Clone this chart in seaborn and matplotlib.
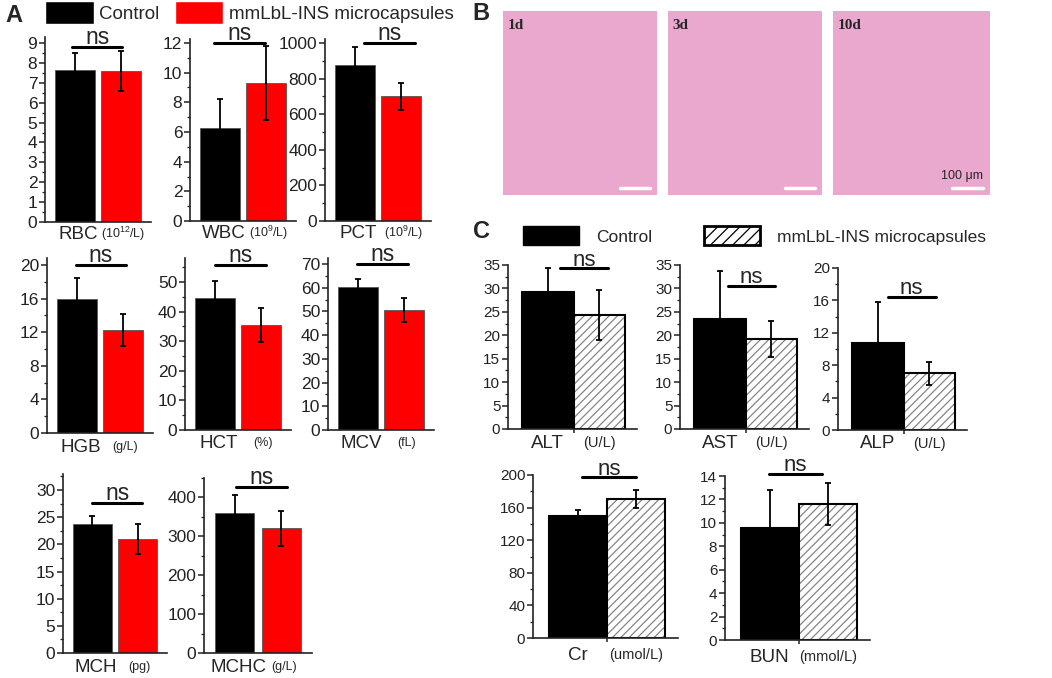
import matplotlib
matplotlib.use('Agg')
import matplotlib.pyplot as plt
import seaborn as sns
from matplotlib.patches import Patch, Rectangle
from matplotlib.ticker import MultipleLocator

W, H = 1052, 678

groups = ['Control', 'mmLbL-INS microcapsules']

# panel A: blood routine (mean, sd)
a_names = ['RBC', 'WBC', 'PCT', 'HGB', 'HCT', 'MCV', 'MCH', 'MCHC']
a_units = ['(10$^{12}$/L)', '(10$^{9}$/L)', '(10$^{9}$/L)', '(g/L)', '(%)', '(fL)', '(pg)', '(g/L)']
a_ctrl = [7.65, 6.3, 875, 15.9, 44.5, 60.5, 23.8, 360]
a_ctrl_sd = [0.85, 1.9, 100, 2.6, 6.0, 3.0, 1.4, 45]
a_mm = [7.6, 9.3, 700, 12.3, 35.5, 50.5, 21.0, 320]
a_mm_sd = [1.0, 2.5, 78, 1.9, 5.7, 5.0, 2.7, 45]

# panel C: liver / kidney function (mean, sd)
c_names = ['ALT', 'AST', 'ALP', 'Cr', 'BUN']
c_units = ['(U/L)', '(U/L)', '(U/L)', '(umol/L)', '(mmol/L)']
c_ctrl = [29.2, 23.4, 10.8, 150, 9.6]
c_ctrl_sd = [5.2, 10.3, 5.0, 7, 3.2]
c_mm = [24.3, 19.2, 7.0, 170, 11.6]
c_mm_sd = [5.4, 3.9, 1.4, 11, 1.8]

# panel B: histology time points
b_days = ['1d', '3d', '10d']

# layout: x0, y0 (px of zero), ref value, ref px, ylim top, major, minor, ns y, ns x0, axis width, label dy
a_layout = [
    (45, 222, 9, 43, 9.3, 1, 0.5, 8.8, -0.07, 106, 12),
    (190, 221, 12, 43, 12.3, 2, 1, 12.0, -0.13, 106, 12),
    (325, 221, 1000, 43, 1020, 200, 100, 1000, 0.2, 106, 12),
    (47, 433, 20, 265, 20.8, 4, 2, 20.0, -0.03, 106, 14),
    (185, 430, 50, 282, 58, 10, 5, 55.7, 0.0, 106, 13),
    (328, 430, 70, 264, 72.5, 10, 5, 70.0, -0.02, 106, 13),
    (63, 653, 30, 490, 33, 5, 2.5, 27.6, 0.0, 104, 14),
    (204, 653, 400, 497, 450, 100, 50, 425, 0.02, 108, 14),
]
c_layout = [
    (508, 429, 35, 265, 35, 5, 2.5, 34.3, 0.24, 129, 14),
    (680, 429, 35, 265, 35, 5, 2.5, 30.6, 0.16, 129, 14),
    (838, 430, 20, 268, 20, 4, 2, 16.4, 0.2, 129, 14),
    (533, 638, 200, 475, 200, 40, 20, 197, 0.08, 145, 17),
    (725, 640, 14, 476, 14, 2, 1, 14.2, -0.02, 145, 17),
]

sns.set_style('ticks')
plt.rcParams['font.family'] = ['Liberation Sans', 'DejaVu Sans']
plt.rcParams['mathtext.default'] = 'regular'
plt.rcParams['hatch.linewidth'] = 0.9

fig = plt.figure(figsize=(W / 100, H / 100), dpi=100)


def make_axes(x0, y0, ref_val, ref_px, ytop, width):
    scale = (y0 - ref_px) / ref_val
    height = ytop * scale
    return fig.add_axes([x0 / W, 1 - y0 / H, width / W, height / H])


def style_axes(ax, ytop, major, minor, labelsize):
    ax.set_ylim(0, ytop)
    ax.yaxis.set_major_locator(MultipleLocator(major))
    ax.yaxis.set_minor_locator(MultipleLocator(minor))
    ax.set_xlabel('')
    ax.set_ylabel('')
    for s in ['top', 'right']:
        ax.spines[s].set_visible(False)
    for s in ['left', 'bottom']:
        ax.spines[s].set_linewidth(1.2)
        ax.spines[s].set_color('#222222')
    ax.tick_params(axis='y', which='major', direction='out', length=4, width=1.1,
                   labelsize=labelsize, pad=1.5, colors='#222222')
    ax.tick_params(axis='y', which='minor', direction='out', length=2, width=0.9, colors='#222222')
    ax.set_facecolor('none')


# ---- panel A ----
for i, lay in enumerate(a_layout):
    x0, y0, rv, rp, ytop, major, minor, ns_y, ns_x0, aw, ldy = lay
    ax = make_axes(x0, y0, rv, rp, ytop, aw)
    vals = [a_ctrl[i], a_mm[i]]
    sds = [a_ctrl_sd[i], a_mm_sd[i]]
    sns.barplot(x=groups, y=vals, hue=groups, palette=['black', '#FF0000'], saturation=1,
                width=0.85, errorbar=None, legend=False, edgecolor='#555555', linewidth=0.6, ax=ax)
    ax.errorbar([0, 1], vals, yerr=sds, fmt='none', ecolor='black', elinewidth=1.3,
                capsize=2.2, capthick=1.3)
    style_axes(ax, ytop, major, minor, 12.5)
    ax.set_xlim(-0.652, 1.652)
    ax.set_xticks([])
    ax.plot([ns_x0, ns_x0 + 1.1], [ns_y, ns_y], color='black', lw=2.2, clip_on=False)
    ax.annotate('ns', xy=(ns_x0 + 0.55, ns_y), xytext=(0, 2), textcoords='offset points',
                ha='center', va='baseline', fontsize=16.5, annotation_clip=False)
    ax.annotate(a_names[i], xy=(0.08, 0), xycoords=('data', 'axes fraction'),
                xytext=(0, -ldy * 0.72), textcoords='offset points',
                ha='center', va='center', fontsize=13.5)
    ax.annotate(a_units[i], xy=(1.05, 0), xycoords=('data', 'axes fraction'),
                xytext=(0, -ldy * 0.72), textcoords='offset points',
                ha='center', va='center', fontsize=9)

fig.legend([Patch(facecolor='black'), Patch(facecolor='#FF0000')], groups,
           loc='upper left', bbox_to_anchor=(45 / W, 1 - 1 / H), ncol=2, frameon=False,
           fontsize=13.5, handlelength=2.6, handleheight=1.55, handletextpad=0.3,
           columnspacing=0.8, borderpad=0, borderaxespad=0)

# ---- panel C ----
for i, lay in enumerate(c_layout):
    x0, y0, rv, rp, ytop, major, minor, ns_y, ns_x0, aw, ldy = lay
    ax = make_axes(x0, y0, rv, rp, ytop, aw)
    vals = [c_ctrl[i], c_mm[i]]
    sds = [c_ctrl_sd[i], c_mm_sd[i]]
    sns.barplot(x=groups, y=vals, hue=groups, palette=['black', 'white'], saturation=1,
                width=1.0, errorbar=None, legend=False, edgecolor='black', linewidth=1.5, ax=ax)
    bar = ax.patches[1]
    bar.set_hatch('////')
    bar.set_edgecolor('#858585')
    bar.set_linewidth(0)
    ax.add_patch(Rectangle(bar.get_xy(), bar.get_width(), bar.get_height(),
                           fill=False, edgecolor='black', linewidth=1.5, zorder=bar.get_zorder()))
    ax.errorbar([0, 1], vals, yerr=sds, fmt='none', ecolor='black', elinewidth=1.3,
                capsize=2.2, capthick=1.3, zorder=3)
    style_axes(ax, ytop, major, minor, 11)
    ax.set_xlim(-0.77, 1.73)
    ax.set_xticks([0.5])
    ax.set_xticklabels([''])
    ax.tick_params(axis='x', direction='out', length=3, width=1.1, colors='#222222')
    ax.plot([ns_x0, ns_x0 + 0.92], [ns_y, ns_y], color='black', lw=2.2, clip_on=False)
    ax.annotate('ns', xy=(ns_x0 + 0.46, ns_y), xytext=(0, 2), textcoords='offset points',
                ha='center', va='baseline', fontsize=16, annotation_clip=False)
    ax.annotate(c_names[i], xy=(0.0, 0), xycoords=('data', 'axes fraction'),
                xytext=(0, -ldy * 0.72), textcoords='offset points',
                ha='center', va='center', fontsize=13.5)
    ax.annotate(c_units[i], xy=(1.0, 0), xycoords=('data', 'axes fraction'),
                xytext=(0, -ldy * 0.72), textcoords='offset points',
                ha='center', va='center', fontsize=10.5)

fig.legend([Patch(facecolor='black', edgecolor='black'),
            Patch(facecolor='white', edgecolor='black', hatch='///', linewidth=2)], groups,
           loc='upper left', bbox_to_anchor=(523 / W, 1 - 226 / H), ncol=2, frameon=False,
           fontsize=12.5, handlelength=3.2, handleheight=1.35, handletextpad=1.0,
           columnspacing=3.0, borderpad=0, borderaxespad=0)

# ---- panel B (histology placeholders) ----
b_boxes = [(503, 11, 154, 184), (668, 11, 154, 184), (833, 11, 157, 184)]
for j, (bx, by, bw, bh) in enumerate(b_boxes):
    ax = fig.add_axes([bx / W, 1 - (by + bh) / H, bw / W, bh / H])
    ax.set_facecolor('#EAA8CE')
    ax.set_xticks([])
    ax.set_yticks([])
    for s in ax.spines.values():
        s.set_visible(False)
    ax.text(0.03, 0.9, b_days[j], transform=ax.transAxes, fontsize=11,
            family='Liberation Serif', fontweight='bold')
    ax.plot([0.76, 0.955], [0.04, 0.04], color='white', lw=2.5, transform=ax.transAxes)
    if j == 2:
        ax.text(0.955, 0.07, '100 μm', transform=ax.transAxes, fontsize=9,
                ha='right', va='bottom', family=['Liberation Sans', 'DejaVu Sans'])

# panel letters
fig.text(5 / W, 1 - 15 / H, 'A', fontsize=17, fontweight='bold', va='center')
fig.text(472 / W, 1 - 14 / H, 'B', fontsize=17, fontweight='bold', va='center')
fig.text(473 / W, 1 - 232 / H, 'C', fontsize=17, fontweight='bold', va='center')

fig.savefig('out.png', dpi=100)
